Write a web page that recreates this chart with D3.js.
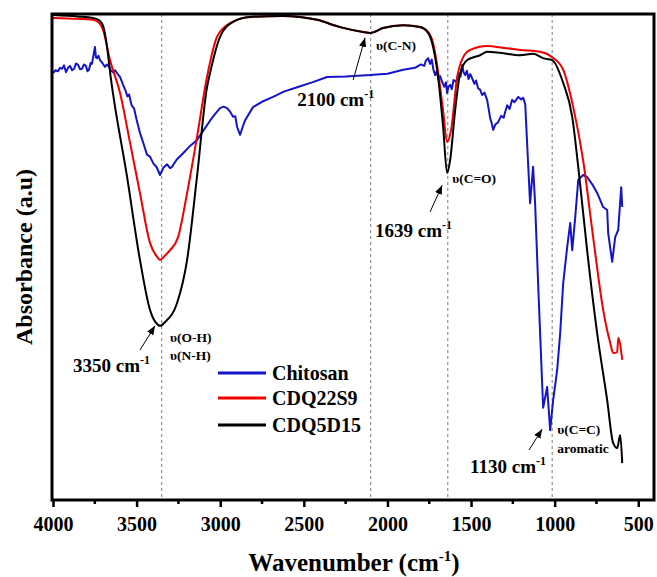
<!DOCTYPE html>
<html>
<head>
<meta charset="utf-8">
<script src="https://cdn.jsdelivr.net/npm/d3@7"></script>
<style>
  body { margin: 0; background: #fff; }
  text { font-family: "Liberation Serif", "Times New Roman", serif; font-weight: bold; }
</style>
</head>
<body>
<svg id="chart" width="657" height="577"></svg>
<script>
// FTIR spectra: [wavenumber cm-1, absorbance a.u.]
const chitosan = [
  [4000, 87.8], [3985, 88.4], [3970, 88.2], [3958, 88.9], [3946, 88.7], [3934, 89.4], [3922, 88.0],
  [3910, 88.9], [3898, 89.3], [3886, 88.4], [3874, 88.7], [3862, 89.8], [3850, 89.5], [3838, 88.6],
  [3827, 88.7], [3815, 89.6], [3803, 89.3], [3794, 88.2], [3785, 88.5], [3775, 89.9], [3767, 89.7],
  [3758, 91.5], [3749, 93.2], [3743, 91.0], [3737, 90.9], [3728, 91.4], [3719, 90.5], [3705, 89.9],
  [3689, 89.1], [3677, 89.6], [3665, 89.1], [3653, 88.3], [3641, 88.0], [3629, 88.4], [3617, 87.8],
  [3599, 87.0], [3590, 86.2], [3581, 85.4], [3565, 84.1], [3555, 83.0], [3545, 83.4], [3530, 81.2],
  [3515, 80.5], [3500, 78.2], [3480, 75.5], [3460, 73.4], [3438, 71.0], [3420, 70.6], [3400, 69.2],
  [3380, 68.4], [3360, 66.8], [3340, 68.3], [3318, 69.0], [3300, 68.2], [3288, 68.5], [3260, 70.0],
  [3222, 71.3], [3180, 72.8], [3139, 74.0], [3100, 76.0], [3061, 78.0], [3030, 79.4], [3001, 80.6],
  [2980, 80.9], [2959, 80.6], [2940, 79.8], [2923, 78.8], [2910, 78.9], [2899, 76.7], [2881, 75.1],
  [2865, 76.8], [2851, 78.1], [2804, 80.8], [2750, 81.9], [2684, 82.9], [2620, 84.0], [2540, 84.9],
  [2450, 85.9], [2361, 87.0], [2250, 87.1], [2104, 87.4], [2000, 87.7], [1906, 88.5], [1835, 88.9],
  [1800, 89.6], [1780, 89.3], [1770, 90.4], [1757, 90.9], [1745, 89.7], [1735, 90.6], [1725, 88.5],
  [1715, 87.4], [1705, 88.2], [1695, 86.5], [1685, 87.2], [1673, 86.0], [1660, 85.0], [1650, 85.9],
  [1643, 83.7], [1635, 85.0], [1625, 85.4], [1615, 84.5], [1605, 86.4], [1589, 86.0], [1575, 87.8],
  [1563, 87.1], [1553, 89.5], [1545, 88.0], [1535, 87.4], [1525, 88.3], [1515, 86.6], [1505, 87.6],
  [1494, 86.8], [1480, 85.6], [1470, 86.3], [1458, 84.7], [1446, 84.4], [1434, 83.3], [1420, 83.8],
  [1404, 82.3], [1395, 80.5], [1386, 78.6], [1376, 77.4], [1368, 76.1], [1355, 77.2], [1338, 77.7],
  [1320, 79.0], [1305, 78.6], [1296, 79.8], [1284, 81.2], [1270, 80.4], [1254, 82.3], [1240, 81.8],
  [1218, 82.9], [1200, 82.4], [1188, 82.7], [1176, 81.4], [1159, 69.3], [1147, 61.0], [1129, 68.5],
  [1117, 61.0], [1099, 44.5], [1075, 23.9], [1069, 18.8], [1045, 23.1], [1027, 14.2], [1009, 20.4],
  [985, 26.6], [967, 34.2], [949, 44.5], [925, 52.0], [907, 56.9], [895, 51.3], [877, 58.1],
  [859, 65.8], [830, 66.8], [806, 66.4], [770, 64.6], [746, 63.1], [710, 60.2], [686, 59.6],
  [680, 54.8], [656, 48.9], [638, 54.0], [620, 55.5], [602, 64.3], [596, 60.2]
];

const cdq22s9 = [
  [4000, 99.2], [3850, 99.0], [3761, 98.8], [3720, 98.0], [3701, 96.7], [3659, 90.5], [3599, 83.7],
  [3539, 73.4], [3480, 63.1], [3420, 52.8], [3375, 49.8], [3360, 49.3], [3330, 50.2], [3300, 51.3],
  [3252, 54.0], [3198, 63.1], [3139, 74.6], [3079, 87.0], [3019, 95.3], [2941, 98.1], [2822, 99.4],
  [2624, 99.6], [2421, 98.8], [2283, 97.3], [2146, 96.3], [2104, 96.1], [2026, 97.1], [1906, 97.7],
  [1805, 97.3], [1757, 96.3], [1727, 94.0], [1697, 88.0], [1667, 80.0], [1643, 73.6], [1620, 76.0],
  [1583, 87.0], [1547, 91.1], [1505, 92.6], [1404, 93.4], [1300, 93.0], [1206, 92.6], [1087, 92.2],
  [1015, 91.1], [949, 88.5], [889, 80.8], [830, 69.9], [770, 54.0], [710, 39.0], [668, 32.2],
  [650, 30.1], [626, 30.3], [620, 33.2], [596, 28.7]
];

const cdq5d15 = [
  [4000, 99.8], [3850, 99.5], [3761, 99.2], [3720, 98.6], [3700, 97.5], [3680, 94.0], [3655, 87.0],
  [3557, 66.4], [3480, 49.3], [3420, 39.0], [3372, 35.9], [3360, 35.7], [3330, 36.5], [3258, 40.4],
  [3198, 49.3], [3139, 66.4], [3079, 84.9], [3061, 87.8], [3001, 95.3], [2923, 98.4], [2822, 99.4],
  [2624, 99.6], [2421, 98.8], [2283, 97.3], [2146, 96.3], [2104, 96.1], [2026, 97.1], [1906, 97.7],
  [1805, 97.3], [1757, 96.1], [1727, 93.2], [1697, 87.0], [1667, 76.7], [1643, 67.2], [1625, 69.9],
  [1595, 80.2], [1565, 87.8], [1523, 90.5], [1446, 91.5], [1404, 92.2], [1326, 92.0], [1206, 91.5],
  [1129, 91.8], [1069, 90.9], [1015, 90.5], [949, 85.8], [895, 78.8], [859, 68.5], [806, 51.3],
  [746, 34.2], [686, 20.4], [650, 11.5], [626, 10.5], [608, 13.2], [596, 7.4]
];

const xTicks = [4000, 3500, 3000, 2500, 2000, 1500, 1000, 500];
const markerLines = [3350, 2100, 1639, 1015];

const series = [
  { name: "Chitosan", data: chitosan, color: "#1414c8", curve: d3.curveLinear },
  { name: "CDQ22S9", data: cdq22s9, color: "#f00000", curve: d3.curveMonotoneX },
  { name: "CDQ5D15", data: cdq5d15, color: "#000000", curve: d3.curveMonotoneX }
];

// peak labels: [text, wavenumber, absorbance]
const peakLabels = [
  ["2100 cm", 2540, 81.0], ["1639 cm", 2074, 54.0], ["3350 cm", 3880, 26.2], ["1130 cm", 1506, 5.4]
];
const bondLabels = [
  ["υ(C-N)", 2068, 92.5], ["υ(C=O)", 1613, 65.1], ["υ(O-H)", 3300, 32.3], ["υ(N-H)", 3300, 28.6],
  ["υ(C=C)", 985, 13.3], ["aromatic", 985, 9.4]
];
// arrows: [tail wn, tail abs, head wn, head abs]
const arrows = [
  [2205, 86.4, 2134, 95.1], [1745, 59.2, 1673, 64.7], [3480, 30.7, 3390, 35.7], [1153, 10.1, 1075, 14.4]
];

const svg = d3.select("#chart");
const margin = { top: 14, right: 2, bottom: 77, left: 53 };
const W = 657, H = 577;

const x = d3.scaleLinear().domain([4000, 400]).range([margin.left, W - margin.right]);
const y = d3.scaleLinear().domain([0, 100]).range([H - margin.bottom - 1, margin.top]);

// dashed guides
svg.append("g").selectAll("line").data(markerLines).join("line")
  .attr("x1", d => x(d)).attr("x2", d => x(d))
  .attr("y1", margin.top).attr("y2", H - margin.bottom)
  .attr("stroke", "#7a7a7a").attr("stroke-width", 1).attr("stroke-dasharray", "3,3");

// spectra
series.forEach(s => {
  svg.append("path").datum(s.data)
    .attr("fill", "none").attr("stroke", s.color).attr("stroke-width", 2)
    .attr("stroke-linejoin", "round")
    .attr("d", d3.line().x(d => x(d[0])).y(d => y(d[1])).curve(s.curve));
});

// frame
svg.append("rect")
  .attr("x", margin.left - 1).attr("y", margin.top)
  .attr("width", W - margin.right - margin.left).attr("height", H - margin.bottom - margin.top)
  .attr("fill", "none").attr("stroke", "#000").attr("stroke-width", 3);

// x axis
const xAxis = svg.append("g")
  .attr("transform", `translate(0,${H - margin.bottom})`)
  .call(d3.axisBottom(x).tickValues(xTicks).tickSize(7).tickPadding(10).tickFormat(d3.format("d")));
xAxis.select(".domain").remove();
xAxis.selectAll(".tick line").attr("stroke-width", 2.5);
xAxis.selectAll(".tick text")
  .style("font-family", '"Liberation Serif", serif').style("font-weight", "bold").style("font-size", "20px");

const minorTicks = d3.range(3750, 400, -500);
xAxis.selectAll(".minor").data(minorTicks).join("line")
  .attr("x1", d => x(d)).attr("x2", d => x(d)).attr("y1", 0).attr("y2", 4)
  .attr("stroke", "#000").attr("stroke-width", 2.5);

// axis titles
const xt = svg.append("text")
  .attr("x", (margin.left + W - margin.right) / 2).attr("y", 571)
  .attr("text-anchor", "middle").style("font-size", "25px");
xt.append("tspan").text("Wavenumber (cm");
xt.append("tspan").text("-1").style("font-size", "15px").attr("dy", -10);
xt.append("tspan").text(")").attr("dy", 10);

svg.append("text")
  .attr("transform", `translate(32,${(margin.top + H - margin.bottom) / 2}) rotate(-90)`)
  .attr("text-anchor", "middle").style("font-size", "24px")
  .text("Absorbance (a.u)");

// arrows
svg.append("defs").append("marker")
  .attr("id", "head").attr("viewBox", "0 0 10 10").attr("refX", 10).attr("refY", 5)
  .attr("markerWidth", 9).attr("markerHeight", 9).attr("orient", "auto")
  .attr("markerUnits", "userSpaceOnUse")
  .append("path").attr("d", "M0,1 L10,5 L0,9 Z").attr("fill", "#000");

svg.append("g").selectAll("line").data(arrows).join("line")
  .attr("x1", d => x(d[0])).attr("y1", d => y(d[1]))
  .attr("x2", d => x(d[2])).attr("y2", d => y(d[3]))
  .attr("stroke", "#000").attr("stroke-width", 1).attr("marker-end", "url(#head)");

// peak labels
peakLabels.forEach(p => {
  const t = svg.append("text").attr("x", x(p[1])).attr("y", y(p[2])).style("font-size", "19px");
  t.append("tspan").text(p[0]);
  t.append("tspan").text("-1").style("font-size", "12px").attr("dy", -8);
});

svg.append("g").selectAll("text").data(bondLabels).join("text")
  .attr("x", d => x(d[1])).attr("y", d => y(d[2]))
  .style("font-size", "13.5px")
  .text(d => d[0]);

// legend
const legend = svg.append("g");
series.forEach((s, i) => {
  const ly = [373, 398, 425][i];
  legend.append("line").attr("x1", 218).attr("x2", 266).attr("y1", ly).attr("y2", ly)
    .attr("stroke", s.color).attr("stroke-width", 3);
  legend.append("text").attr("x", 272).attr("y", ly).attr("dy", "0.35em")
    .style("font-size", "20px").text(s.name);
});
</script>
</body>
</html>
